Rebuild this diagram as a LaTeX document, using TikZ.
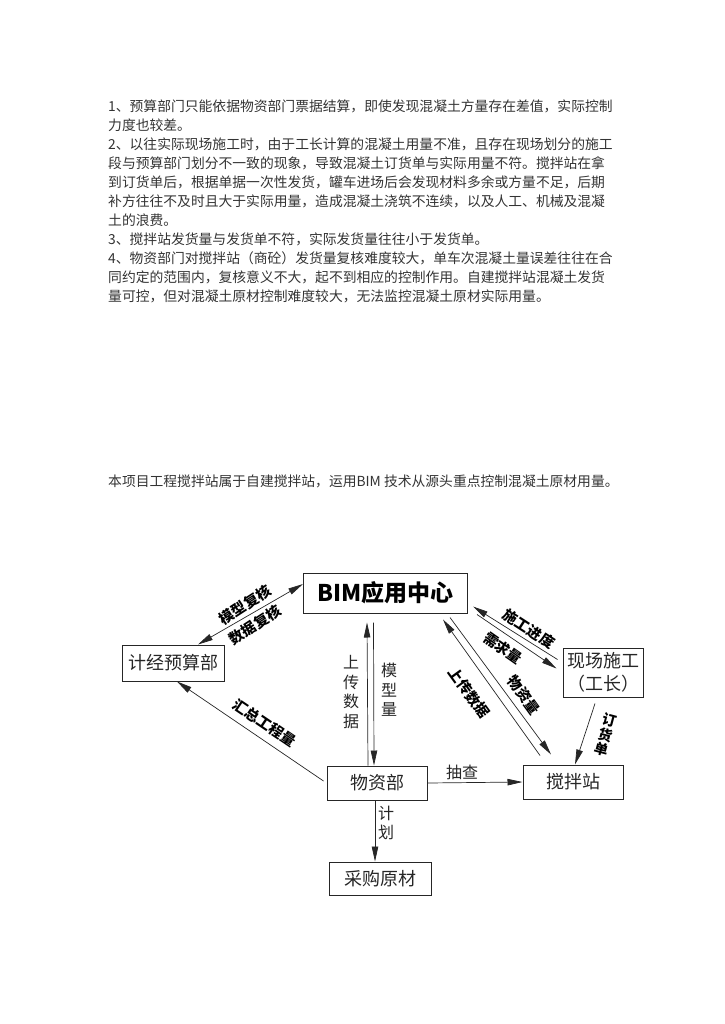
\documentclass[tikz,border=0pt]{standalone}
\usepackage{fontspec}
\setmainfont{Noto Sans CJK SC}
\usetikzlibrary{arrows.meta,calc}
\tikzset{
  box/.style={draw=black!85,line width=1pt,inner sep=0pt,font=\fontsize{18}{22}\selectfont,text=black!85},
  para/.style={anchor=west,inner sep=0pt,font=\fontsize{13.8}{16}\selectfont,text=black!80},
  conn/.style={draw=black!85,line width=0.7pt},
  tip/.style={-{Triangle[length=15pt,width=6.5pt]}},
  tips/.style={{Triangle[length=15pt,width=6.5pt]}-{Triangle[length=15pt,width=6.5pt]}},
  blbl/.style={inner sep=0pt,font=\fontsize{14.5}{16}\bfseries\selectfont,text=black},
  vlbl/.style={inner sep=0pt,align=center,font=\fontsize{16}{19.5}\selectfont,text=black!85},
}
\begin{document}
\begin{tikzpicture}[x=1pt,y=-1pt]
\useasboundingbox (0,0) rectangle (724,1024);
% paragraphs
\node[para] (p1) at (108,106) {1、预算部门只能依据物资部门票据结算，即使发现混凝土方量存在差值，实际控制};
\node[para] (p2) at (108,125) {力度也较差。};
\node[para] (p3) at (108,144) {2、以往实际现场施工时，由于工长计算的混凝土用量不准，且存在现场划分的施工};
\node[para] (p4) at (108,163) {段与预算部门划分不一致的现象，导致混凝土订货单与实际用量不符。搅拌站在拿};
\node[para] (p5) at (108,182) {到订货单后，根据单据一次性发货，罐车进场后会发现材料多余或方量不足，后期};
\node[para] (p6) at (108,201) {补方往往不及时且大于实际用量，造成混凝土浇筑不连续，以及人工、机械及混凝};
\node[para] (p7) at (108,220) {土的浪费。};
\node[para] (p8) at (108,239) {3、搅拌站发货量与发货单不符，实际发货量往往小于发货单。};
\node[para] (p9) at (108,258) {4、物资部门对搅拌站（商砼）发货量复核难度较大，单车次混凝土量误差往往在合};
\node[para] (p10) at (108,277) {同约定的范围内，复核意义不大，起不到相应的控制作用。自建搅拌站混凝土发货};
\node[para] (p11) at (108,296) {量可控，但对混凝土原材控制难度较大，无法监控混凝土原材实际用量。};
\node[para] (s1) at (108,481) {本项目工程搅拌站属于自建搅拌站，运用BIM 技术从源头重点控制混凝土原材用量。};
% boxes
\node[box,minimum width=164pt,minimum height=40pt,font=\fontsize{23}{26}\bfseries\selectfont,text=black] (bim) at (385.5,593) {BIM应用中心};
\node[box,minimum width=102pt,minimum height=36pt] (jj) at (173,663) {计经预算部};
\node[box,minimum width=80pt,minimum height=49pt,align=center,font=\fontsize{18}{23}\selectfont] (xc) at (603,672.5) {现场施工\\（工长）};
\node[box,minimum width=100pt,minimum height=34pt] (wz) at (377,783) {物资部};
\node[box,minimum width=100pt,minimum height=34pt] (jb) at (573,782) {搅拌站};
\node[box,minimum width=102pt,minimum height=33pt] (cg) at (380,878.5) {采购原材};
% connectors
\draw[conn,tips] ([xshift=25pt]jj.north) -- ([yshift=9pt]bim.west);
\draw[conn,tip] ([xshift=-3pt,yshift=2pt]wz.west) -- ([xshift=4pt]jj.south);
\draw[conn,tip] ([xshift=-9pt]wz.north) -- ([xshift=-18.5pt,yshift=-9pt]bim.south);
\draw[conn,tip] ([xshift=-12pt,yshift=-9pt]bim.south) -- ([xshift=-3pt]wz.north);
\draw[conn,tip] (wz.east) -- (jb.west);
\draw[conn,tip] ([xshift=-2pt]wz.south) -- ([xshift=-5pt]cg.north);
\draw[conn,tip] ([xshift=-5pt,yshift=13pt]xc.west) -- ([xshift=5pt,yshift=7pt]bim.south east);
\draw[conn,tip] ([xshift=9pt,yshift=-1pt]bim.south east) -- ([xshift=-6pt,yshift=4pt]xc.west);
\draw[conn,tip] ([xshift=-33pt,yshift=9pt]jb.north) -- ([xshift=-25pt,yshift=-6pt]bim.south east);
\draw[conn,tip] ([xshift=-18pt,yshift=-4pt]bim.south east) -- ([xshift=-22pt,yshift=10pt]jb.north);
\draw[conn,tip] ([xshift=-8pt,yshift=-6pt]xc.south) -- ([xshift=2pt]jb.north);
% labels
\node[blbl,rotate=33] (l1) at (245,605) {模型复核};
\node[blbl,rotate=33] (l2) at (255,625) {数据复核};
\node[blbl,rotate=-34] (l3) at (265,723) {汇总工程量};
\node[blbl,rotate=-33] (l4) at (529,629) {施工进度};
\node[blbl,rotate=-35] (l5) at (503,648) {需求量};
\node[blbl,rotate=-54] (l6) at (469,693) {上传数据};
\node[blbl,rotate=-54] (l7) at (524,695) {物资量};
\node[blbl,rotate=-15,align=center,font=\fontsize{14}{15}\bfseries\selectfont] (l8) at (606,735) {订\\货\\单};
\node[vlbl] (v1) at (351,692) {上\\传\\数\\据};
\node[vlbl] (v2) at (389,690) {模\\型\\量};
\node[vlbl] (v3) at (386,823) {计\\划};
\node[vlbl] (v4) at (462,772) {抽查};
\end{tikzpicture}
\end{document}
